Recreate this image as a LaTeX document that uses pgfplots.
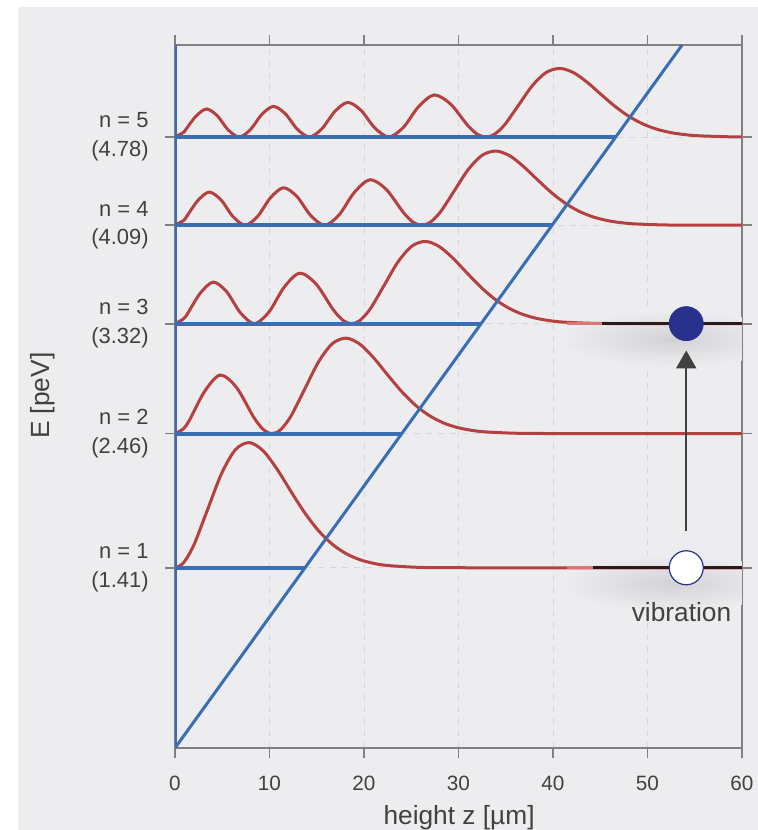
\documentclass[border=0pt]{standalone}
\usepackage{pgfplots}
\pgfplotsset{compat=1.18}
\usepackage{fontspec}
\setmainfont{Liberation Sans}
\usetikzlibrary{arrows.meta}

\definecolor{bg}{RGB}{237,237,240}
\definecolor{wavered}{RGB}{181,64,64}
\definecolor{lightred}{RGB}{222,118,118}
\definecolor{potblue}{RGB}{58,110,178}
\definecolor{axisgray}{RGB}{128,128,131}
\definecolor{gridgray}{RGB}{214,214,219}
\definecolor{statenavy}{RGB}{40,50,140}
\definecolor{darkline}{RGB}{45,25,25}
\definecolor{txt}{RGB}{65,65,65}
\colorlet{shadowc}{black!11!bg}

\begin{document}
\begin{tikzpicture}
\useasboundingbox (0,0) rectangle (379bp,415bp);
\fill[bg] (9bp,0) rectangle (379bp,411.5bp);
\begin{axis}[
  at={(87.5bp,41bp)}, anchor=south west,
  scale only axis, width=283.5bp, height=351.5bp,
  xmin=0, xmax=60, ymin=0, ymax=5.5,
  xtick={0,10,...,60},
  ytick={1.41,2.46,3.32,4.09,4.78},
  yticklabels={{n = 1\\(1.41)},{n = 2\\(2.46)},{n = 3\\(3.32)},{n = 4\\(4.09)},{n = 5\\(4.78)}},
  tick align=outside, xtick pos=both, ytick pos=both,
  xticklabel pos=lower, yticklabel pos=left,
  major tick length=5bp,
  every tick/.style={axisgray, line width=0.9bp},
  axis line style={axisgray, line width=1.3bp},
  grid=major, grid style={gridgray, dashed, line width=0.4bp},
  /pgf/number format/assume math mode=true,
  xticklabel style={font=\fontsize{10.4}{12}\selectfont, text=txt, anchor=base, yshift=-16bp},
  yticklabel style={font=\fontsize{11}{14.5}\selectfont, text=txt, align=right, anchor=east, inner sep=0pt, xshift=-8bp},
  xlabel={height z [µm]},
  every axis x label/.style={at={(rel axis cs:0.501,-0.1095)}, anchor=base, font=\fontsize{13.2}{15}\selectfont, text=txt},
  ylabel={E [peV]},
  every axis y label/.style={at={(rel axis cs:-0.2337,0.501)}, rotate=90, anchor=center, font=\fontsize{13.2}{15}\selectfont, text=txt},
]

% soft shadows under the two marked states
\shade[inner color=shadowc, outer color=bg] (axis cs:52.5,3.20) ellipse [x radius=56bp, y radius=14bp];
\shade[inner color=shadowc, outer color=bg] (axis cs:52.5,1.29) ellipse [x radius=56bp, y radius=14bp];

% |psi_n(z)|^2, drawn on top of each level E_n
\addplot[wavered, line width=1.5bp, smooth] coordinates {
(0,1.41) (0.881,1.4471) (1.985,1.5866) (3.452,1.8661) (4.920,2.1460) (6.387,2.3335) (7.855,2.3894) (9.322,2.3254) (10.790,2.1828) (12.257,2.0087) (13.725,1.8404) (15.192,1.6995) (16.660,1.5933) (18.127,1.5198) (19.595,1.4725) (21.062,1.4439) (22.530,1.4276) (25.465,1.4142) (28.400,1.4108) (35,1.41) (60,1.41)};
\addplot[wavered, line width=1.5bp, smooth] coordinates {
(0,2.46) (0.881,2.4967) (1.538,2.5659) (3.130,2.7896) (4.786,2.9180) (6.517,2.8201) (8.338,2.5868) (9.391,2.4883) (10.272,2.46) (11.152,2.4883) (12.256,2.5946) (13.724,2.8077) (15.191,3.0211) (16.659,3.1640) (18.126,3.2066) (19.594,3.1579) (21.061,3.0491) (22.529,2.9164) (23.996,2.7881) (25.464,2.6807) (26.931,2.5997) (28.399,2.5437) (29.866,2.5077) (31.334,2.4859) (32.801,2.4734) (35.736,2.4632) (38.671,2.4606) (45,2.46) (60,2.46)};
\addplot[wavered, line width=1.5bp, smooth] coordinates {
(0,3.32) (0.881,3.3563) (1.320,3.3976) (2.668,3.5579) (4.048,3.6448) (5.462,3.5699) (6.915,3.4057) (8.409,3.32) (9.947,3.4113) (11.540,3.6040) (13.196,3.7147) (14.926,3.6303) (16.747,3.4293) (17.800,3.3444) (18.681,3.32) (19.562,3.3444) (20.666,3.4360) (22.133,3.6196) (23.601,3.8034) (25.068,3.9266) (26.536,3.9633) (28.003,3.9213) (29.471,3.8276) (30.938,3.7132) (32.406,3.6027) (33.873,3.5101) (35.341,3.4404) (36.808,3.3921) (38.276,3.3611) (39.743,3.3423) (41.211,3.3315) (44.146,3.3227) (47.081,3.3206) (52,3.32) (60,3.32)};
\addplot[wavered, line width=1.5bp, smooth] coordinates {
(0,4.09) (0.881,4.1259) (1.188,4.1528) (2.394,4.2813) (3.621,4.3493) (4.868,4.2880) (6.138,4.1572) (7.432,4.09) (8.752,4.1600) (10.101,4.3047) (11.480,4.3831) (12.895,4.3155) (14.347,4.1673) (15.842,4.09) (17.380,4.1723) (18.972,4.3463) (20.628,4.4461) (22.358,4.3700) (24.179,4.1886) (25.233,4.1120) (26.113,4.09) (26.994,4.1120) (28.098,4.1947) (29.566,4.3603) (31.033,4.5262) (32.501,4.6373) (33.968,4.6705) (35.436,4.6326) (36.903,4.5480) (38.371,4.4448) (39.838,4.3451) (41.306,4.2616) (42.773,4.1986) (44.241,4.1551) (45.708,4.1270) (47.176,4.1101) (48.643,4.1004) (51.578,4.0925) (54.513,4.0905) (60,4.09)};
\addplot[wavered, line width=1.5bp, smooth] coordinates {
(0,4.78) (0.881,4.8156) (1.097,4.8335) (2.206,4.9423) (3.330,4.9993) (4.469,4.9466) (5.623,4.8363) (6.794,4.78) (7.982,4.8380) (9.188,4.9568) (10.415,5.0197) (11.662,4.9630) (12.932,4.8421) (14.226,4.78) (15.546,4.8447) (16.895,4.9784) (18.274,5.0509) (19.689,4.9885) (21.141,4.8514) (22.636,4.78) (24.174,4.8561) (25.766,5.0169) (27.422,5.1092) (29.152,5.0388) (30.973,4.8712) (32.027,4.8003) (32.907,4.78) (33.788,4.8004) (34.892,4.8768) (36.360,5.0299) (37.827,5.1832) (39.295,5.2860) (40.762,5.3166) (42.230,5.2815) (43.697,5.2034) (45.165,5.1080) (46.632,5.0158) (48.100,4.9386) (49.567,4.8804) (51.035,4.8402) (52.502,4.8142) (53.970,4.7986) (55.437,4.7896) (58.372,4.7823) (60,4.7805)};

% energy levels up to the classical turning points
\addplot[potblue, line width=2bp] coordinates {(0,1.41) (13.76,1.41)};
\addplot[potblue, line width=2bp] coordinates {(0,2.46) (24.00,2.46)};
\addplot[potblue, line width=2bp] coordinates {(0,3.32) (32.39,3.32)};
\addplot[potblue, line width=2bp] coordinates {(0,4.09) (39.90,4.09)};
\addplot[potblue, line width=2bp] coordinates {(0,4.78) (46.63,4.78)};

% gravitational potential mgz and the mirror at z = 0
\addplot[potblue, line width=1.5bp] coordinates {(0,0) (53.66,5.5)};
\addplot[potblue, line width=2.2bp] coordinates {(0,0) (0,5.5)};

% occupied stretches of the n = 1 and n = 3 levels
\addplot[lightred, line width=1.6bp] coordinates {(41.5,3.32) (45.2,3.32)};
\addplot[darkline, line width=1.7bp] coordinates {(45.2,3.32) (60,3.32)};
\addplot[lightred, line width=1.6bp] coordinates {(41.5,1.41) (44.2,1.41)};
\addplot[darkline, line width=1.7bp] coordinates {(44.2,1.41) (60,1.41)};

% transition n = 1 -> n = 3
\draw[txt, line width=1.2bp, -{Triangle[width=10bp,length=9bp]}] (axis cs:54.1,1.70) -- (axis cs:54.1,3.11);
\addplot[only marks, mark=*, mark size=8.5bp, mark options={fill=statenavy, draw=statenavy}] coordinates {(54.1,3.32)};
\addplot[only marks, mark=*, mark size=8.5bp, mark options={fill=white, draw=statenavy, line width=0.6bp}] coordinates {(54.1,1.41)};
\node[anchor=base, font=\fontsize{13.2}{15}\selectfont, text=txt] at (axis cs:53.6,0.988) {vibration};
\end{axis}
\end{tikzpicture}
\end{document}
